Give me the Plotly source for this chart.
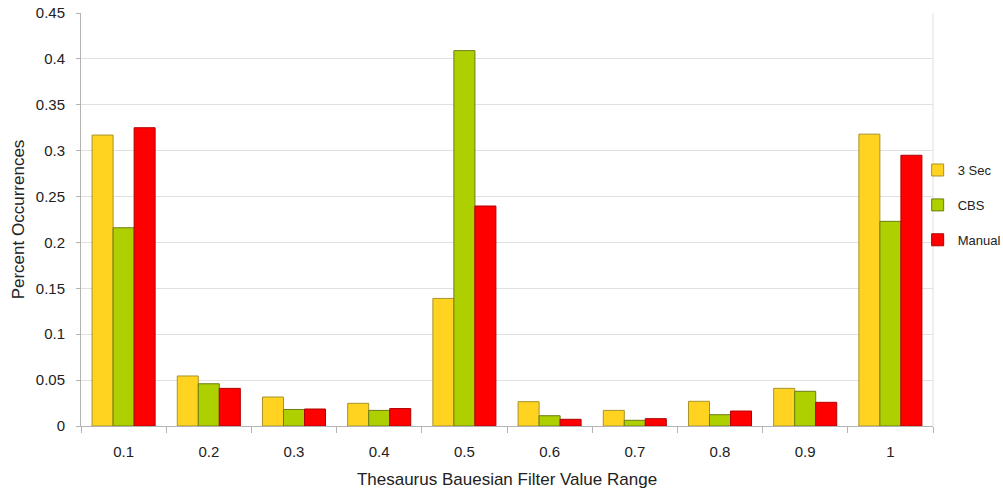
import plotly.graph_objects as go

categories = ["0.1", "0.2", "0.3", "0.4", "0.5", "0.6", "0.7", "0.8", "0.9", "1"]
sec3 = [0.317, 0.0545, 0.0316, 0.0247, 0.139, 0.0265, 0.017, 0.0269, 0.041, 0.318]
cbs = [0.216, 0.046, 0.018, 0.017, 0.409, 0.0112, 0.0062, 0.0123, 0.0378, 0.223]
manual = [0.325, 0.041, 0.0185, 0.019, 0.2397, 0.0073, 0.008, 0.0163, 0.0258, 0.295]
y_ticks = [0, 0.05, 0.1, 0.15, 0.2, 0.25, 0.3, 0.35, 0.4, 0.45]
y_tick_text = ["0", "0.05", "0.1", "0.15", "0.2", "0.25", "0.3", "0.35", "0.4", "0.45"]

FONT = "Liberation Sans, Arial, sans-serif"

fig = go.Figure()
fig.add_trace(go.Bar(name="3 Sec", x=categories, y=sec3, legendgroup="a",
                     marker=dict(color="#FFD320", line=dict(color="#A8922A", width=1))))
fig.add_trace(go.Bar(name="CBS", x=categories, y=cbs, legendgroup="b",
                     marker=dict(color="#AECF00", line=dict(color="#6B7D10", width=1))))
fig.add_trace(go.Bar(name="Manual", x=categories, y=manual, legendgroup="c",
                     marker=dict(color="#FF0000", line=dict(color="#B00000", width=1))))

fig.update_layout(
    width=1003, height=491,
    barmode="group", bargap=0.26, bargroupgap=0,
    plot_bgcolor="white", paper_bgcolor="white",
    margin=dict(l=81, r=70, t=13, b=65, autoexpand=False),
    font=dict(family=FONT, size=15, color="#222"),
    legend=dict(x=0.982, y=0.535, xanchor="left", yanchor="middle",
                font=dict(size=13, color="#222"), tracegroupgap=15,
                itemwidth=30, bgcolor="rgba(0,0,0,0)"),
    xaxis=dict(
        title=dict(text="Thesaurus Bauesian Filter Value Range", font=dict(size=17), standoff=14),
        showline=True, linecolor="#b3b3b3", linewidth=1,
        ticks="outside", tickson="boundaries", ticklen=6, tickcolor="#b3b3b3",
        ticklabelstandoff=12,
        showgrid=False, mirror=False, tickfont=dict(size=15), automargin=False,
    ),
    yaxis=dict(
        title=dict(text="Percent Occurrences", font=dict(size=17), standoff=6),
        range=[0, 0.45], tickvals=y_ticks, ticktext=y_tick_text,
        showline=True, linecolor="#b3b3b3", linewidth=1,
        ticks="outside", ticklen=4, tickcolor="#b3b3b3",
        ticklabelstandoff=8, ticklabeloverflow="allow",
        showgrid=True, gridcolor="#e0e0e0", gridwidth=1,
        zeroline=False, tickfont=dict(size=15), automargin=False,
    ),
)
fig.add_shape(type="line", xref="paper", yref="paper", x0=1, x1=1, y0=0, y1=1,
              line=dict(color="#e0e0e0", width=1))

fig.write_html("out.html", config={"displayModeBar": False},
               post_script="document.body.style.margin='0';document.body.style.overflow='hidden';")
